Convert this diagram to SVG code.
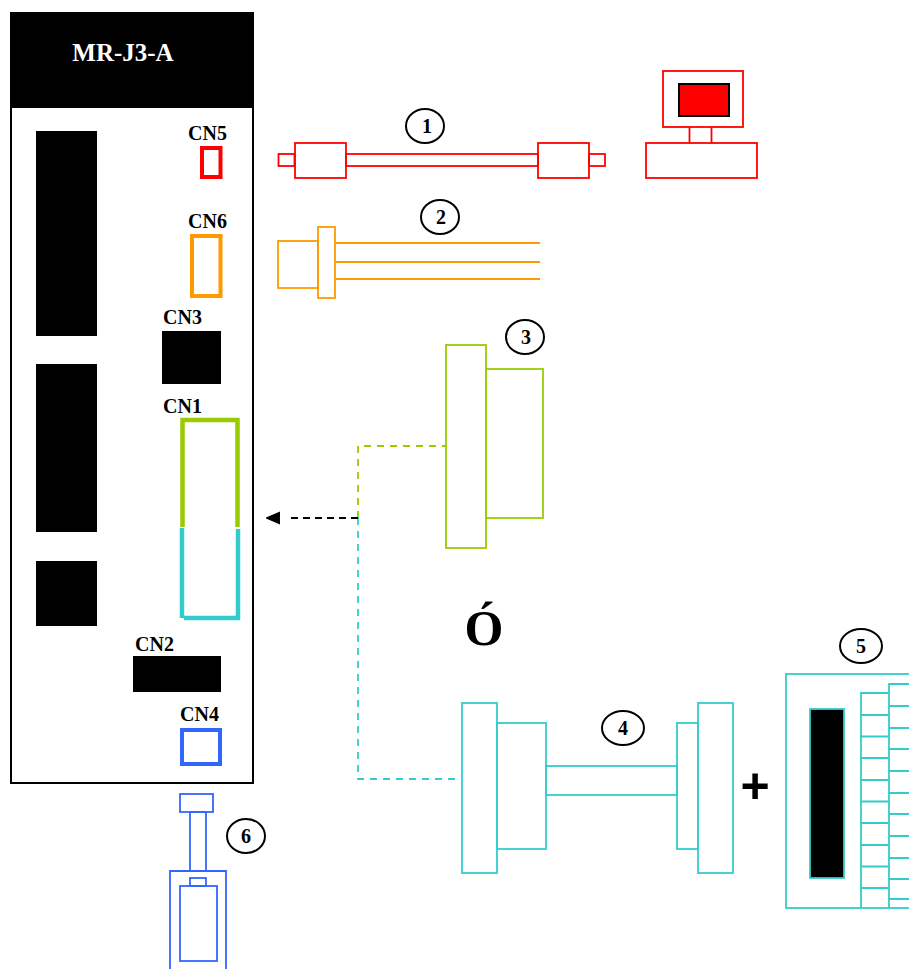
<svg xmlns="http://www.w3.org/2000/svg" width="909" height="969" viewBox="0 0 909 969">
<style>
text{font-family:"Liberation Serif","Times New Roman",serif;font-weight:bold;fill:#000}
.l{font-size:20px}
.n{font-size:20px;text-anchor:middle}
.c{fill:#fff;stroke:#000;stroke-width:2}
.b{fill:#000;stroke:none}
.s{fill:none;stroke-width:1.800}
.r{stroke:#f00}.o{stroke:#f90}.g{stroke:#9c0}.t{stroke:#3cc}.u{stroke:#36f}
</style>
<defs><marker id="ah" markerWidth="20" markerHeight="14" refX="0" refY="7" orient="auto" markerUnits="userSpaceOnUse"><path d="M6 0.500V13.500L21 7Z" fill="#000"/></marker></defs>
<rect width="909" height="969" fill="#fff"/>
<g id="drive">
<rect x="11" y="13" width="242" height="770" fill="#fff" stroke="#000" stroke-width="2"/>
<rect class="b" x="11" y="12" width="243" height="96"/>
<text x="123" y="61" text-anchor="middle" style="font-size:25px;fill:#fff">MR-J3-A</text>
<rect class="b" x="36" y="131" width="61" height="205"/>
<rect class="b" x="36" y="364" width="61" height="168"/>
<rect class="b" x="36" y="561" width="61" height="65"/>
</g>
<g id="cn5"><text class="l" x="188" y="140">CN5</text><rect x="202" y="148" width="18.500" height="29" fill="none" stroke="#f00" stroke-width="4"/></g>
<g id="cn6"><text class="l" x="188" y="228">CN6</text><rect x="192" y="236" width="28.500" height="60" fill="none" stroke="#f90" stroke-width="4"/></g>
<g id="cn3"><text class="l" x="163" y="324">CN3</text><rect class="b" x="162" y="331" width="59" height="53"/></g>
<g id="cn1"><text class="l" x="163" y="413">CN1</text>
<path d="M182.500 527V420H237.500V527" fill="none" stroke="#9c0" stroke-width="4.500"/>
<path d="M182 528V618M238 529V618H184" fill="none" stroke="#3cc" stroke-width="4.500"/></g>
<g id="cn2"><text class="l" x="135" y="651">CN2</text><rect class="b" x="133" y="656" width="88" height="36"/></g>
<g id="cn4"><text class="l" x="180" y="721">CN4</text><rect x="182" y="730" width="38" height="34" fill="none" stroke="#36f" stroke-width="4"/></g>
<g id="connectors">
<path class="s g" d="M358 518V446H446" stroke-dasharray="7 6"/>
<path class="s t" d="M358 518V779H458" stroke-dasharray="7 6"/>
<path d="M358 518H286" fill="none" stroke="#000" stroke-width="1.800" stroke-dasharray="7 5" marker-end="url(#ah)"/>
</g>
<g id="cable1" class="s r">
<rect x="278.500" y="154" width="16" height="12"/><rect x="295" y="143" width="51" height="35"/>
<rect x="346" y="154" width="192" height="12"/><rect x="538" y="143" width="51" height="35"/><rect x="589" y="154" width="16" height="12"/>
</g>
<g id="label1"><ellipse class="c" cx="425" cy="126" rx="19" ry="17"/><text class="n" x="427" y="133">1</text></g>
<g id="pc">
<rect class="s r" x="663" y="71" width="80" height="56"/>
<rect x="679" y="84" width="50" height="32" fill="#f00" stroke="#000" stroke-width="2"/>
<path class="s r" d="M689.500 127V143M711.500 127V143"/>
<rect class="s r" x="646" y="143" width="111" height="35"/>
</g>
<g id="cable2" class="s o">
<rect x="278" y="241" width="40" height="47"/><rect x="318" y="227" width="17" height="71"/>
<path d="M335 243H540M335 262H540M335 279H540"/>
</g>
<g id="label2"><ellipse class="c" cx="440" cy="217" rx="19" ry="17"/><text class="n" x="441" y="224">2</text></g>
<g id="connector3" class="s g">
<rect x="446" y="345" width="40" height="203"/><rect x="486" y="369" width="57" height="149"/>
</g>
<g id="label3"><ellipse class="c" cx="525" cy="337" rx="19" ry="17"/><text class="n" x="526" y="344">3</text></g>
<text x="484" y="645" text-anchor="middle" style="font-size:50px">Ó</text>
<g id="cable4" class="s t">
<rect x="462" y="703" width="35" height="170"/><rect x="497" y="723" width="49" height="126"/>
<rect x="546" y="766" width="131" height="29"/>
<rect x="677" y="723" width="21" height="126"/><rect x="698" y="703" width="35" height="170"/>
</g>
<g id="label4"><ellipse class="c" cx="623" cy="728" rx="21" ry="17"/><text class="n" x="623" y="735">4</text></g>
<text x="755" y="803" text-anchor="middle" style="font-size:50px;font-family:'Liberation Sans',sans-serif">+</text>
<g id="terminal" class="s t">
<rect x="786" y="674" width="130" height="234"/>
<rect x="810" y="709" width="34" height="169" fill="#000"/>
<path d="M861 908V693H889M889 908V684H909M861 715H889M861 736.500H889M861 758H889M861 780H889M861 801.500H889M861 823H889M861 845H889M861 866.500H889M861 888H889M889 706H909M889 728H909M889 749H909M889 771H909M889 793H909M889 814H909M889 836H909M889 858H909M889 879H909M889 899H909"/>
</g>
<g id="label5"><ellipse class="c" cx="861" cy="646" rx="21" ry="17"/><text class="n" x="861" y="653">5</text></g>
<g id="motor" class="s u">
<rect x="180" y="794" width="33" height="18"/>
<rect x="190" y="812" width="16" height="59"/>
<path d="M170 969V871H226V969"/>
<rect x="190" y="878" width="16" height="8"/>
<rect x="180" y="886" width="37" height="75"/>
</g>
<g id="label6"><ellipse class="c" cx="246" cy="836" rx="19" ry="17"/><text class="n" x="246" y="843">6</text></g>
</svg>
